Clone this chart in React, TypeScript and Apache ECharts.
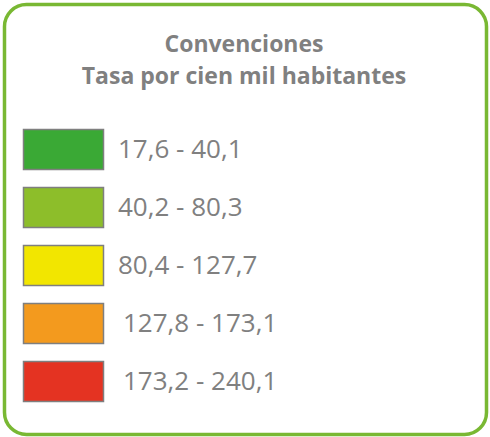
import React, { useEffect, useRef } from "react";
import * as echarts from "echarts";

const titleLines = ["Convenciones", "Tasa por cien mil habitantes"];
const rangeLabels = ["17,6 - 40,1", "40,2 - 80,3", "80,4 - 127,7", "127,8 - 173,1", "173,2 - 240,1"];
const rangeColors = ["#3aa935", "#8dbe2a", "#f2e600", "#f39a1e", "#e43322"];
const labelIndent = [0, 0, 0, 5, 5];

export default function App() {
  const ref = useRef<HTMLDivElement>(null);
  useEffect(() => {
    if (!ref.current) return;
    const chart = echarts.init(ref.current, null, { renderer: "svg" });
    const font = "'Open Sans', sans-serif";
    const elements: any[] = [
      {
        type: "rect",
        shape: { x: 4.5, y: 4.5, width: 482, height: 430, r: 22 },
        style: { fill: "#ffffff", stroke: "#79b833", lineWidth: 3.5 },
      },
    ];
    titleLines.forEach((t, i) => {
      elements.push({
        type: "text",
        x: 244,
        y: 43 + i * 32,
        style: {
          text: t,
          fill: "#808080",
          font: `bold 23px ${font}`,
          textAlign: "center",
          textVerticalAlign: "middle",
        },
      });
    });
    rangeLabels.forEach((lab, i) => {
      const top = 129 + i * 58;
      elements.push({
        type: "rect",
        shape: { x: 23.5, y: top + 0.5, width: 80, height: 40 },
        style: { fill: rangeColors[i], stroke: "#7f7f7f", lineWidth: 1.5 },
      });
      elements.push({
        type: "text",
        x: 118 + labelIndent[i],
        y: top + 19,
        style: {
          text: lab,
          fill: "#808080",
          font: `26px ${font}`,
          textAlign: "left",
          textVerticalAlign: "middle",
        },
      });
    });
    chart.setOption({ animation: false, graphic: { elements } });
    return () => chart.dispose();
  }, []);
  return <div ref={ref} style={{ width: 490, height: 437, position: "absolute", left: 0, top: 0 }} />;
}
